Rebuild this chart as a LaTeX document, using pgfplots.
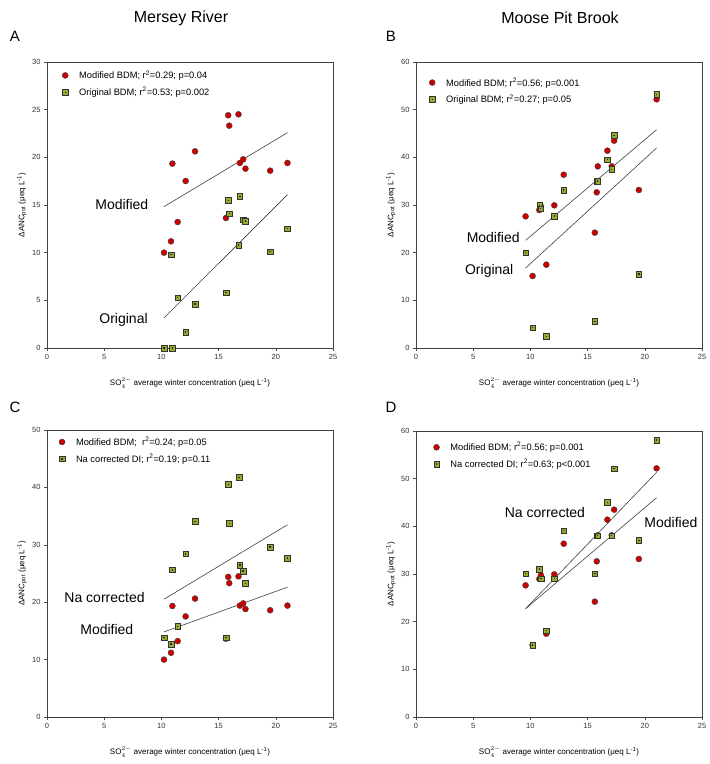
\documentclass[border=0pt]{standalone}
\usepackage{fontspec}
\setmainfont{Liberation Sans}
\usepackage{pgfplots}
\pgfplotsset{compat=1.18}
\definecolor{redpt}{RGB}{204,0,0}
\definecolor{grnpt}{RGB}{150,170,45}
\pgfdeclareplotmark{sqdot}{%
  \pgfpathrectangle{\pgfpoint{-\pgfplotmarksize}{-\pgfplotmarksize}}{\pgfpoint{2\pgfplotmarksize}{2\pgfplotmarksize}}%
  \pgfusepathqfillstroke
  \pgfscope
  \pgfsetfillcolor{black!85}%
  \pgfpathrectangle{\pgfpoint{-0.7pt}{-0.7pt}}{\pgfpoint{1.4pt}{1.4pt}}%
  \pgfusepathqfill
  \endpgfscope}
\tikzset{lbl/.style={font=\fontsize{14}{16}\selectfont}}
\pgfplotsset{
  panel/.style={
    scale only axis, width=286pt, height=286pt,
    xmin=0, xmax=25, xtick={0,5,...,25}, ymin=0,
    tick align=outside, xtick pos=bottom, ytick pos=left,
    major tick length=3pt, tick style={black!70, line width=0.5pt},
    axis line style={black!75, line width=0.6pt},
    ticklabel style={font=\fontsize{7.5}{8}\selectfont, text=black!80},
    /pgf/number format/assume math mode=true,
    xlabel={SO$_4^{2-}$ average winter concentration (μeq L\textsuperscript{-1})},
    ylabel={ΔANC\textsubscript{pot} (μeq L\textsuperscript{-1})},
    label style={font=\fontsize{8}{9}\selectfont},
    xlabel style={at={(axis description cs:0.5,0)}, anchor=center, yshift=-35pt},
    ylabel style={at={([xshift=-25pt]axis description cs:0,0.5)}, anchor=center},
    legend style={draw=none, fill=none, font=\fontsize{9.3}{10}\selectfont,
      at={(axis description cs:0.042,0.985)}, anchor=north west, row sep=3pt},
    legend cell align=left,
    legend image code/.code={\draw plot coordinates {(0cm,0cm)}; \path[draw=none,fill=none] (0cm,0cm) -- (0.42cm,0cm);},
  },
  redm/.style={only marks, mark=*, mark size=3pt, mark options={fill=redpt, draw=black!75, line width=0.4pt}},
  grnm/.style={only marks, mark=sqdot, mark size=2.8pt, mark options={fill=grnpt, draw=black!80, line width=0.4pt}},
  regl/.style={no marks, black!75, line width=0.6pt, forget plot},
}
\begin{document}
\begin{tikzpicture}
\useasboundingbox (0,0) rectangle (710pt,764pt);
\node[font=\fontsize{16}{18}\selectfont] at (181pt,746pt) {Mersey River};
\node[font=\fontsize{16}{18}\selectfont] at (560pt,746pt) {Moose Pit Brook};
\node[font=\fontsize{15}{17}\selectfont] at (15pt,728pt) {A};
\node[font=\fontsize{15}{17}\selectfont] at (391pt,728pt) {B};
\node[font=\fontsize{15}{17}\selectfont] at (15pt,357pt) {C};
\node[font=\fontsize{15}{17}\selectfont] at (391pt,357pt) {D};

% Panel A
\begin{axis}[panel, at={(47pt,416pt)}, anchor=south west, ymax=30, ytick={0,5,...,30}]
\addplot[redm] coordinates {(10.23,10.0) (10.84,11.19) (10.96,19.34) (11.42,13.22) (12.12,17.52) (12.94,20.63) (15.64,13.64) (15.84,24.41) (15.93,23.32) (16.74,24.51) (16.86,19.41) (17.15,19.79) (17.35,18.81) (19.51,18.60) (21.02,19.41)};
\addlegendentry{Modified BDM; r\textsuperscript{2}=0.29; p=0.04}
\addplot[grnm] coordinates {(10.23,0) (10.96,0) (10.84,9.79) (11.42,5.28) (12.12,1.68) (12.94,4.62) (15.64,5.80) (15.84,15.49) (15.93,14.09) (16.74,10.80) (16.86,15.91) (17.15,13.46) (17.35,13.32) (19.51,10.10) (21.02,12.52)};
\addlegendentry{Original BDM; r\textsuperscript{2}=0.53; p=0.002}
\addplot[regl] coordinates {(10.23,14.83) (21.02,22.59)};
\addplot[regl] coordinates {(10.23,3.15) (21.02,16.08)};
\node[lbl] at (axis cs:6.54,15.03) {Modified};
\node[lbl] at (axis cs:6.69,2.97) {Original};
\end{axis}

% Panel B
\begin{axis}[panel, at={(416pt,416pt)}, anchor=south west, ymax=60, ytick={0,10,...,60},
  legend style={at={(axis description cs:0.035,0.96)}}]
\addplot[redm] coordinates {(9.58,27.62) (10.19,15.10) (10.78,28.95) (10.92,29.72) (11.39,17.48) (12.09,29.93) (12.91,36.36) (15.63,24.20) (15.80,32.66) (15.89,38.11) (16.73,41.40) (17.11,38.11) (17.32,43.50) (19.48,33.15) (21.03,52.17)};
\addlegendentry{Modified BDM; r\textsuperscript{2}=0.56; p=0.001}
\addplot[grnm] coordinates {(9.58,20.0) (10.19,4.27) (10.81,29.93) (10.89,29.23) (11.39,2.45) (12.09,27.69) (12.91,33.15) (15.63,5.59) (15.80,34.97) (15.89,35.0) (16.73,39.5) (17.11,37.5) (17.32,44.6) (19.48,15.5) (21.03,53.2)};
\addlegendentry{Original BDM; r\textsuperscript{2}=0.27; p=0.05}
\addplot[regl] coordinates {(9.58,22.59) (21.03,45.8)};
\addplot[regl] coordinates {(9.58,16.78) (21.03,41.96)};
\node[lbl] at (axis cs:6.75,23.2) {Modified};
\node[lbl] at (axis cs:6.40,16.08) {Original};
\end{axis}

% Panel C
\begin{axis}[panel, at={(47pt,47pt)}, anchor=south west, height=287pt, ymax=50, ytick={0,10,...,50},
  legend style={at={(axis description cs:0.031,0.99)}}]
\addplot[redm] coordinates {(10.23,10.0) (10.84,11.19) (10.96,19.34) (11.42,13.22) (12.12,17.52) (12.94,20.63) (15.64,13.64) (15.84,24.41) (15.93,23.32) (16.74,24.51) (16.86,19.41) (17.15,19.79) (17.35,18.81) (19.51,18.60) (21.02,19.41)};
\addlegendentry{Modified BDM;\ \ r\textsuperscript{2}=0.24; p=0.05}
\addplot[grnm] coordinates {(10.23,13.84) (10.84,12.73) (10.96,25.64) (11.42,15.81) (12.12,28.43) (12.94,34.07) (15.64,13.84) (15.84,40.52) (15.93,33.72) (16.80,41.74) (16.86,26.45) (17.15,25.41) (17.35,23.31) (19.51,29.59) (21.02,27.67)};
\addlegendentry{Na corrected DI; r\textsuperscript{2}=0.19; p=0.11}
\addplot[regl] coordinates {(10.23,20.52) (21.02,33.49)};
\addplot[regl] coordinates {(10.23,14.83) (21.02,22.62)};
\node[lbl] at (axis cs:5.03,20.76) {Na corrected};
\node[lbl] at (axis cs:5.23,15.29) {Modified};
\end{axis}

% Panel D
\begin{axis}[panel, at={(416pt,47pt)}, anchor=south west, ymax=60, ytick={0,10,...,60},
  legend style={at={(axis description cs:0.05,0.975)}}]
\addplot[redm] coordinates {(9.58,27.62) (10.19,15.10) (10.78,28.95) (10.92,29.72) (11.39,17.48) (12.09,29.93) (12.91,36.36) (15.63,24.20) (15.80,32.66) (15.89,38.11) (16.73,41.40) (17.11,38.11) (17.32,43.50) (19.48,33.15) (21.03,52.17)};
\addlegendentry{Modified BDM; r\textsuperscript{2}=0.56; p=0.001}
\addplot[grnm] coordinates {(9.58,30.07) (10.19,15.10) (10.78,31.05) (10.92,29.02) (11.39,18.11) (12.09,29.02) (12.91,39.09) (15.63,30.07) (15.80,38.04) (15.89,38.04) (16.73,45.03) (17.11,38.04) (17.32,52.1) (19.48,37.06) (21.03,58.11)};
\addlegendentry{Na corrected DI; r\textsuperscript{2}=0.63; p<0.001}
\addplot[regl] coordinates {(9.58,22.73) (21.03,51.33)};
\addplot[regl] coordinates {(9.58,22.73) (21.03,46.01)};
\node[lbl] at (axis cs:11.27,42.8) {Na corrected};
\node[lbl] at (axis cs:22.28,40.9) {Modified};
\end{axis}
\end{tikzpicture}
\end{document}
